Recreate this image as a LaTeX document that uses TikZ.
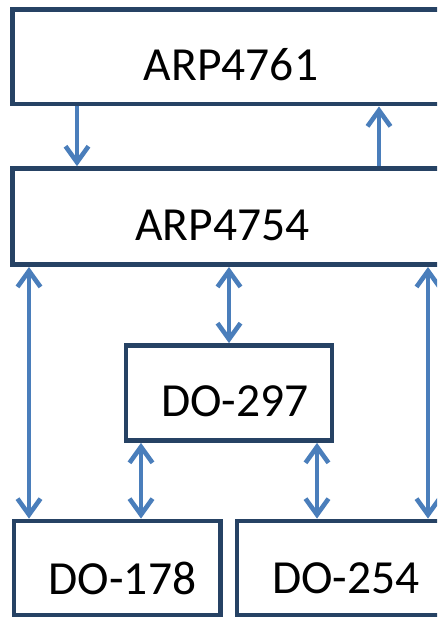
\documentclass[tikz,border=0pt]{standalone}
\usepackage{fontspec}
\setmainfont{Carlito}
\usepackage{xcolor}
\usepackage{tikz}
\usetikzlibrary{arrows.meta,positioning}

\definecolor{frame}{HTML}{264264}
\definecolor{flow}{HTML}{4A7EBB}

\begin{document}
\begin{tikzpicture}[x=1pt, y=1pt,
      box/.style={draw=frame, line width=4.8pt, fill=white, rectangle,
        inner sep=0pt, minimum width=206pt, minimum height=94pt},
      txt/.style={font=\fontsize{47.5}{56}\selectfont, inner sep=0pt},
      link/.style={draw=flow, line width=4.6pt,
        {Straight Barb[length=16pt, width=23pt]}-{Straight Barb[length=16pt, width=23pt]}},
      oneway/.style={draw=flow, line width=4.6pt,
        -{Straight Barb[length=16pt, width=23pt]}}]
    \useasboundingbox (0,0) rectangle (437,618);
    \clip (0,0) rectangle (437,618);
    % standards (the wide ones run past the right edge)
    \node[box, minimum width=457pt, minimum height=94.5pt] (arp61) at (241,561.2) {};
    \node[box, minimum width=457pt, minimum height=96pt] (arp54) at (241,401.4) {};
    \node[box, minimum height=95pt] (do297) at (229,225) {};
    \node[box, minimum width=206.5pt] (do178) at (117.2,50) {};
    \node[box, minimum width=233pt] (do254) at (353.5,50) {};
    \node[txt] (arp61t) at (231,553) {ARP4761};
    \node[txt] (arp54t) at (222.5,393) {ARP4754};
    \node[txt] (do297t) at (235,217) {DO-297};
    \node[txt] (do178t) at (122.5,40) {DO-178};
    \node[txt] (do254t) at (346,40) {DO-254};
    % columns of the connectors
    \coordinate (c1) at (29,0);
    \coordinate (c2) at (77,0);
    \coordinate (c3) at (141,0);
    \coordinate (c4) at (229,0);
    \coordinate (c5) at (317,0);
    \coordinate (c6) at (379,0);
    \coordinate (c7) at (428,0);
    % ARP4761 <-> ARP4754
    \draw[oneway] (arp61.south -| c2) -- (arp54.north -| c2);
    \draw[oneway] (arp54.north -| c6) -- (arp61.south -| c6);
    % ARP4754 down to the rest
    \draw[link] (arp54.south -| c4) -- (do297.north -| c4);
    \draw[link] (arp54.south -| c1) -- (do178.north -| c1);
    \draw[link] (arp54.south -| c7) -- (do254.north -| c7);
    % DO-297 to software and hardware
    \draw[link] (do297.south -| c3) -- (do178.north -| c3);
    \draw[link] (do297.south -| c5) -- (do254.north -| c5);
\end{tikzpicture}
\end{document}
